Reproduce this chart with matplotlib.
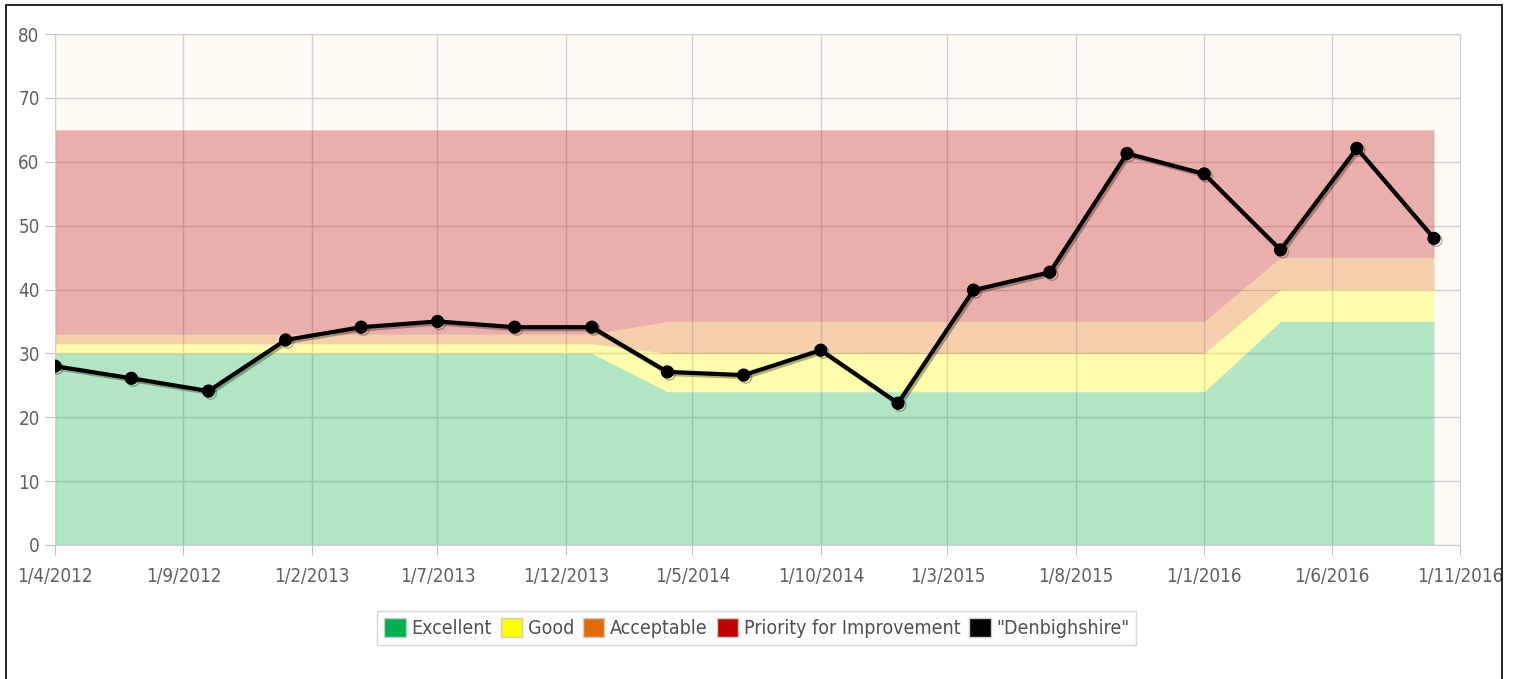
import datetime as dt
import matplotlib
matplotlib.use("Agg")
import matplotlib.pyplot as plt
import matplotlib.dates as mdates
import matplotlib.patheffects as pe
from matplotlib.patches import Patch, Rectangle

# quarterly data points
dates = [dt.date(2012, 4, 1), dt.date(2012, 7, 1), dt.date(2012, 10, 1),
         dt.date(2013, 1, 1), dt.date(2013, 4, 1), dt.date(2013, 7, 1),
         dt.date(2013, 10, 1), dt.date(2014, 1, 1), dt.date(2014, 4, 1),
         dt.date(2014, 7, 1), dt.date(2014, 10, 1), dt.date(2015, 1, 1),
         dt.date(2015, 4, 1), dt.date(2015, 7, 1), dt.date(2015, 10, 1),
         dt.date(2016, 1, 1), dt.date(2016, 4, 1), dt.date(2016, 7, 1),
         dt.date(2016, 10, 1)]
denbighshire = [28.0, 26.1, 24.1, 32.1, 34.1, 35.0, 34.1, 34.1, 27.1, 26.6,
                30.5, 22.2, 39.9, 42.7, 61.3, 58.1, 46.2, 62.1, 48.0]

# band upper limits
excellent_top = [30] * 8 + [24] * 8 + [35] * 3
good_top = [31.5] * 8 + [30] * 8 + [40] * 3
acceptable_top = [33] * 8 + [35] * 8 + [45] * 3
priority_top = [65] * 19

tick_dates = [dt.date(2012, 4, 1), dt.date(2012, 9, 1), dt.date(2013, 2, 1),
              dt.date(2013, 7, 1), dt.date(2013, 12, 1), dt.date(2014, 5, 1),
              dt.date(2014, 10, 1), dt.date(2015, 3, 1), dt.date(2015, 8, 1),
              dt.date(2016, 1, 1), dt.date(2016, 6, 1), dt.date(2016, 11, 1)]
tick_labels = ["1/4/2012", "1/9/2012", "1/2/2013", "1/7/2013", "1/12/2013",
               "1/5/2014", "1/10/2014", "1/3/2015", "1/8/2015", "1/1/2016",
               "1/6/2016", "1/11/2016"]

names = ["Excellent", "Good", "Acceptable", "Priority for Improvement", '"Denbighshire"']
colors = ["#00b050", "#ffff00", "#e36c09", "#c00000", "#000000"]

fig = plt.figure(figsize=(15.16, 6.79), dpi=100)
ax = fig.add_axes([55 / 1516, 1 - 545 / 679, 1405 / 1516, 511 / 679])
ax.set_facecolor("#fffcf5")

bands = [[0] * 19, excellent_top, good_top, acceptable_top, priority_top]
for i in range(4):
    ax.fill_between(dates, bands[i], bands[i + 1], color=colors[i],
                    alpha=0.3, linewidth=0, zorder=2)

ax.plot(dates, denbighshire, color="black", lw=3, marker="o", ms=8.5, zorder=5,
        path_effects=[pe.SimpleLineShadow(offset=(1.5, -1.5), alpha=0.3), pe.Normal()])

ax.set_ylim(0, 80)
ax.set_yticks(range(0, 81, 10))
ax.set_xlim(tick_dates[0], tick_dates[-1])
ax.set_xticks([mdates.date2num(d) for d in tick_dates])
ax.set_xticklabels(tick_labels)
ax.grid(True, color="#d0d0d0", lw=1, zorder=1)
ax.set_axisbelow(True)
for s in ax.spines.values():
    s.set_color("#d0d0d0")
ax.tick_params(colors="#c0c0c0", labelcolor="#606060", labelsize=13.5, length=7)
ax.tick_params(axis="x", pad=9)
ax.tick_params(axis="y", pad=4)
for lab in ax.get_xticklabels() + ax.get_yticklabels():
    lab.set_fontstretch("condensed")

handles = [Patch(facecolor=c, edgecolor="#cccccc", lw=1) for c in colors]
leg = fig.legend(handles, names, loc="center", bbox_to_anchor=(0.4993, 0.075), ncol=5,
                 fontsize=14, frameon=True, fancybox=False, edgecolor="#cccccc",
                 handlelength=1.1, handleheight=1.1, handletextpad=0.3,
                 columnspacing=0.45, borderpad=0.35)
for t in leg.get_texts():
    t.set_color("#505050")
    t.set_fontstretch("condensed")

# outer black frame
fig.patches.append(Rectangle((6 / 1516, -0.05), 1496 / 1516, 1.05 - 5 / 679,
                             transform=fig.transFigure, fill=False,
                             edgecolor="black", lw=1.2, clip_on=False))

fig.savefig("out.png", dpi=100)
